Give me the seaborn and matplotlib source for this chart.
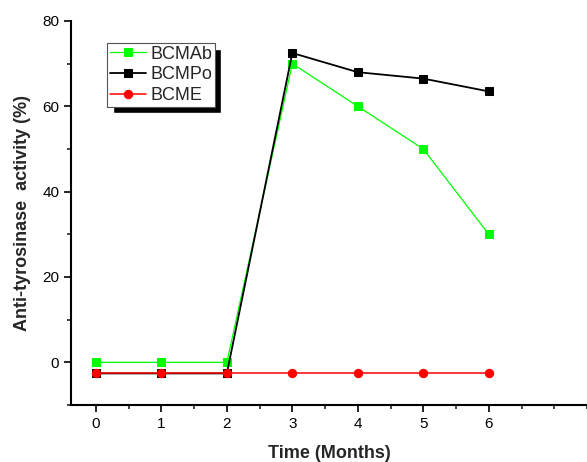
import numpy as np
import pandas as pd
import seaborn as sns
import matplotlib.pyplot as plt
from matplotlib.ticker import MultipleLocator
from matplotlib.patches import Rectangle

months = [0, 1, 2, 3, 4, 5, 6]
bcmab = [0, 0, 0, 70, 60, 50, 30]
bcmpo = [-2.6, -2.6, -2.6, 72.5, 68, 66.5, 63.5]
bcme = [-2.6, -2.6, -2.6, -2.6, -2.6, -2.6, -2.6]

df = pd.DataFrame({"Time": months * 3,
                   "Activity": bcmab + bcmpo + bcme,
                   "Sample": ["BCMAb"] * 7 + ["BCMPo"] * 7 + ["BCME"] * 7})

sns.set_style("ticks")
plt.rcParams["font.family"] = ["Liberation Sans", "DejaVu Sans"]

fig = plt.figure(figsize=(5.87, 4.62), dpi=100)
ax = fig.add_axes([71 / 587, 57 / 462, 1 - 71 / 587, (405 - 21) / 462])

styles = {"BCMAb": ("#00ff00", "s", 0.9, 5.5), "BCMPo": ("black", "s", 1.3, 5.5), "BCME": ("red", "o", 1.1, 6)}
for name in ["BCMAb", "BCMPo", "BCME"]:
    c, m, lw, ms = styles[name]
    sub = df[df["Sample"] == name]
    sns.lineplot(data=sub, x="Time", y="Activity", color=c, marker=m, markersize=ms,
                 markeredgecolor=c, linewidth=lw, ax=ax, label=name)

leg = ax.legend(loc="upper left", bbox_to_anchor=((107 - 71) / 516, (405 - 43) / 384),
                borderaxespad=0, fontsize=13, frameon=True, fancybox=False,
                handlelength=2.0, borderpad=0.15, labelspacing=0.2, handletextpad=0.25)
leg.get_frame().set_edgecolor("#555555")
leg.get_frame().set_linewidth(0.8)
leg.get_frame().set_alpha(1)
leg.set_zorder(10)

ax.set_xlim(-0.38, 7.5)
ax.set_ylim(-10, 80)
ax.set_xticks(months)
ax.set_yticks([0, 20, 40, 60, 80])
ax.xaxis.set_minor_locator(MultipleLocator(0.5))
ax.yaxis.set_minor_locator(MultipleLocator(10))
ax.tick_params(which="major", length=5, width=1.2, labelsize=11, colors="black")
ax.tick_params(which="minor", length=3, width=1.2)
for s in ["top", "right"]:
    ax.spines[s].set_visible(False)
for s in ["left", "bottom"]:
    ax.spines[s].set_linewidth(1.5)
    ax.spines[s].set_color("black")

ax.set_xlabel("Time (Months)", fontsize=13, fontweight="bold", labelpad=10)
ax.set_ylabel("Anti-tyrosinase  activity (%)", fontsize=13, fontweight="bold", labelpad=8)

# thick offset shadow behind the legend box
fig.canvas.draw()
bb = leg.get_frame().get_window_extent().transformed(fig.transFigure.inverted())
ax.add_patch(Rectangle((bb.x0 + 6 / 587, bb.y0 - 6 / 462), bb.width, bb.height,
                       transform=fig.transFigure, facecolor="black", zorder=9, clip_on=False))

fig.savefig("out.png", dpi=100)
